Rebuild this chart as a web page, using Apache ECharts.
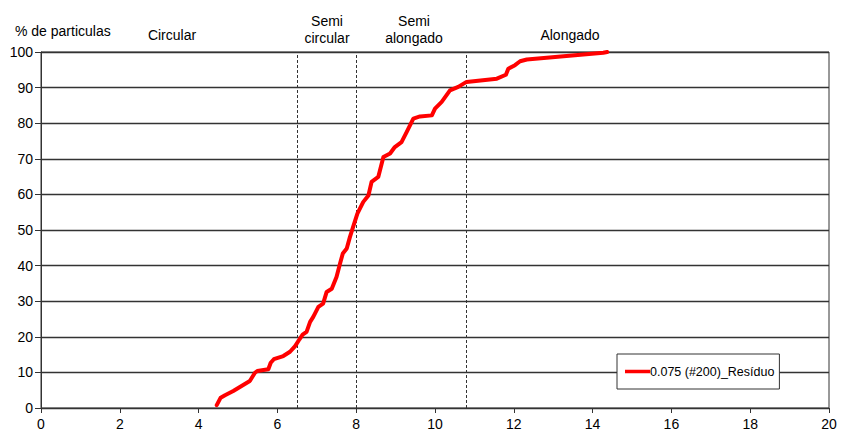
<!DOCTYPE html>
<html>
<head>
<meta charset="utf-8">
<style>
  html, body { margin: 0; padding: 0; background: #fff; }
  #chart { width: 842px; height: 432px; }
</style>
<script src="https://cdn.jsdelivr.net/npm/echarts@6/dist/echarts.min.js"></script>
</head>
<body>
<div id="chart"></div>
<script>
// Cumulative particle distribution (x: form index, y: % of particles)
const formIndex = [
  4.46, 4.56, 4.67, 4.88, 5.09, 5.30, 5.43, 5.49, 5.77, 5.83,
  5.91, 6.15, 6.32, 6.45, 6.56, 6.64, 6.74, 6.83, 6.91, 7.04,
  7.16, 7.25, 7.38, 7.50, 7.59, 7.66, 7.76, 7.84, 7.92, 8.03,
  8.18, 8.31, 8.39, 8.56, 8.69, 8.86, 8.98, 9.15, 9.28, 9.45,
  9.62, 9.92, 10.00, 10.17, 10.38, 10.59, 10.80, 11.57, 11.80, 11.86,
  12.03, 12.16, 12.33, 14.27, 14.37
];
const percentParticles = [
  0.8, 2.9, 3.6, 4.8, 6.2, 7.6, 9.9, 10.4, 10.9, 12.7,
  13.7, 14.6, 15.8, 17.4, 19.3, 20.6, 21.4, 24.2, 25.6, 28.4,
  29.3, 32.6, 33.5, 36.8, 40.6, 43.4, 44.8, 48.0, 50.8, 54.6,
  57.9, 59.7, 63.5, 64.9, 70.5, 71.5, 73.3, 74.7, 77.5, 81.3,
  81.9, 82.2, 84.1, 86.0, 89.2, 90.2, 91.6, 92.5, 93.6, 95.3,
  96.3, 97.4, 97.9, 99.8, 100
];
// Class boundaries between particle shapes
const classLimits = [6.5, 8, 10.8];
const seriesName = '0.075 (#200)_Resíduo';
const yAxisTitle = '% de particulas';

const FONT = '"Liberation Sans", Arial, Helvetica, sans-serif';
const chart = echarts.init(document.getElementById('chart'), null, { renderer: 'svg' });

const lineData = formIndex.map((x, i) => [x, percentParticles[i]]);

const topLabel = (text, x, y) => ({
  type: 'text',
  x: x, y: y,
  style: {
    text: text,
    font: '14px ' + FONT,
    fill: '#000',
    align: 'center',
    verticalAlign: 'middle',
    lineHeight: 17
  }
});

chart.setOption({
  animation: false,
  backgroundColor: '#fff',
  textStyle: { fontFamily: FONT },
  grid: {
    left: 41, right: 13, top: 52, bottom: 24,
    show: true, borderColor: '#333', borderWidth: 1, backgroundColor: 'transparent'
  },
  legend: {
    data: [seriesName],
    left: 617, top: 354,
    orient: 'horizontal',
    backgroundColor: '#fff',
    borderColor: '#333',
    borderWidth: 1,
    padding: [11, 5, 11, 8],
    icon: 'rect',
    itemWidth: 25,
    itemHeight: 3.5,
    textStyle: { fontSize: 12.5, color: '#000', fontFamily: FONT, padding: [0, 0, 0, -5] }
  },
  xAxis: {
    type: 'value',
    min: 0, max: 20, interval: 2,
    axisLine: { show: true, onZero: false, lineStyle: { color: '#333', width: 1 } },
    axisTick: { show: true, length: 5, lineStyle: { color: '#333' } },
    axisLabel: { color: '#000', fontSize: 14, margin: 9, fontFamily: FONT },
    splitLine: { show: false }
  },
  yAxis: {
    type: 'value',
    min: 0, max: 100, interval: 10,
    axisLine: { show: true, lineStyle: { color: '#333', width: 1 } },
    axisTick: { show: true, length: 6, lineStyle: { color: '#333' } },
    axisLabel: { color: '#000', fontSize: 14, margin: 8, fontFamily: FONT },
    splitLine: { show: true, lineStyle: { color: '#333', width: 1.4 } }
  },
  series: [{
    name: seriesName,
    type: 'line',
    data: lineData,
    symbol: 'none',
    smooth: false,
    lineStyle: { color: '#ff0000', width: 4, join: 'round', cap: 'round' },
    itemStyle: { color: '#ff0000' },
    z: 5,
    markLine: {
      silent: true,
      symbol: 'none',
      label: { show: false },
      lineStyle: { color: '#333', type: [3, 2], width: 1 },
      data: classLimits.map(v => ({ xAxis: v }))
    }
  }],
  graphic: [
    {
      type: 'text', x: 15, y: 31,
      style: { text: yAxisTitle, font: '14px ' + FONT, fill: '#000', align: 'left', verticalAlign: 'middle' }
    },
    topLabel('Circular', 172, 35),
    topLabel('Semi\ncircular', 327, 29),
    topLabel('Semi\nalongado', 414, 29),
    topLabel('Alongado', 570, 35)
  ]
});
</script>
</body>
</html>
